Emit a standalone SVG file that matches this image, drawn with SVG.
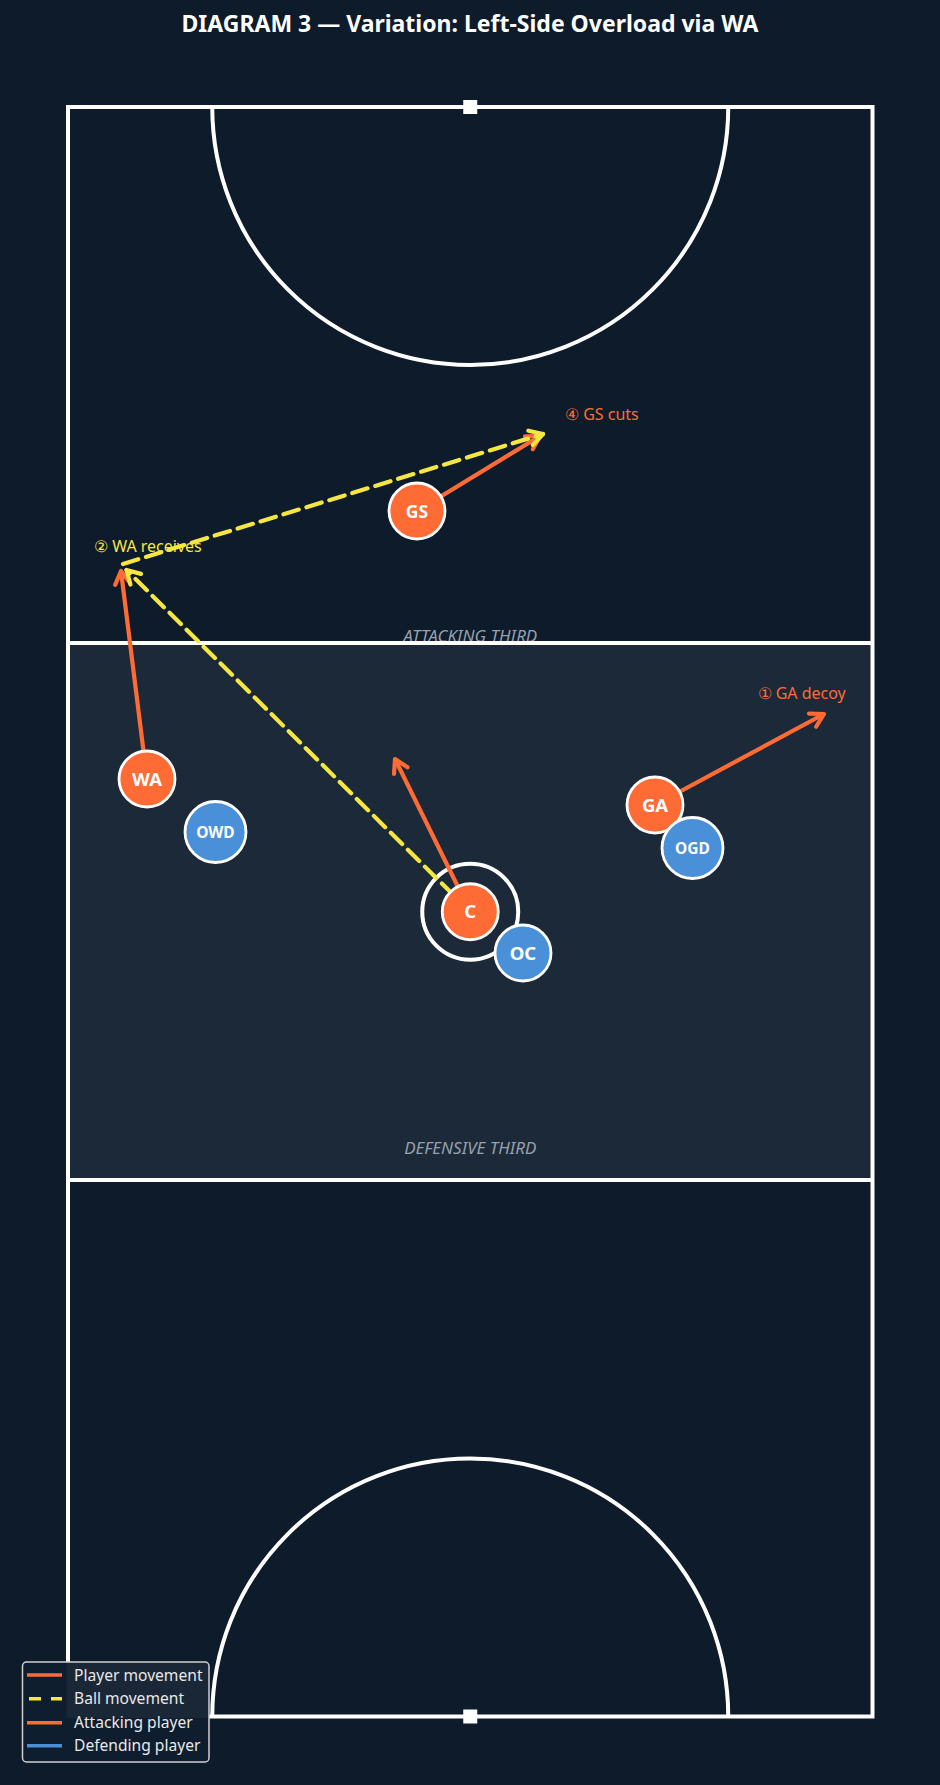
<svg xmlns="http://www.w3.org/2000/svg" width="940" height="1785" viewBox="0 0 940 1785">
<defs>
<style>
.court{fill:none;stroke:#ffffff;stroke-width:4}
.zone{font-family:"Noto Sans","Liberation Sans",sans-serif;font-size:17px;font-style:italic;fill:#96a1ad;text-anchor:middle}
.lbl{font-family:"Noto Sans","Liberation Sans",sans-serif;font-size:16px}
.mv{stroke:#ff6b35;stroke-width:4.2;fill:none;stroke-linecap:butt}
.ball{stroke:#f5e642;stroke-width:4.2;fill:none;stroke-dasharray:16 8;stroke-linecap:round}
.att{fill:#ff6b35;stroke:#ffffff;stroke-width:2.8}
.def{fill:#4a90d9;stroke:#ffffff;stroke-width:2.8}
.pt{font-family:"Noto Sans","Liberation Sans",sans-serif;font-weight:bold;fill:#ffffff;text-anchor:middle}
.leg{font-family:"Noto Sans","Liberation Sans",sans-serif;font-size:15.6px;fill:#e8e8e8}
</style>
<marker id="ho" markerUnits="userSpaceOnUse" orient="auto" refX="0" refY="0" markerWidth="30" markerHeight="30" overflow="visible">
<path d="M-13,-7.5 L0,0 L-13,7.5" fill="none" stroke="#ff6b35" stroke-width="4.2" stroke-linecap="round" stroke-linejoin="round"/>
</marker>
<marker id="hy" markerUnits="userSpaceOnUse" orient="auto" refX="0" refY="0" markerWidth="30" markerHeight="30" overflow="visible">
<path d="M-13,-7.5 L0,0 L-13,7.5" fill="none" stroke="#f5e642" stroke-width="4.2" stroke-linecap="round" stroke-linejoin="round"/>
</marker>
</defs>
<rect width="940" height="1785" fill="#0e1b2b"/>
<text x="470" y="32" font-family="'Noto Sans','Liberation Sans',sans-serif" font-size="23" font-weight="bold" fill="#ffffff" text-anchor="middle">DIAGRAM 3 — Variation: Left-Side Overload via WA</text>
<g id="court">
<rect x="68" y="643" width="804.5" height="537" fill="#1c2938"/>
<text class="zone" x="470.25" y="641.5">ATTACKING THIRD</text>
<text class="zone" x="470.25" y="1154">DEFENSIVE THIRD</text>
<rect class="court" x="68" y="107" width="804.5" height="1609.5"/>
<line class="court" x1="68" y1="643" x2="872.5" y2="643"/>
<line class="court" x1="68" y1="1180" x2="872.5" y2="1180"/>
<path class="court" d="M212.25,107 A258,258 0 0 0 728.25,107"/>
<path class="court" d="M212.25,1716.5 A258,258 0 0 1 728.25,1716.5"/>
<circle class="court" cx="470.25" cy="911.75" r="48"/>
<rect x="463.25" y="100" width="14" height="14" fill="#ffffff"/>
<rect x="463.25" y="1709.5" width="14" height="14" fill="#ffffff"/>
</g>
<g id="labels">
<text class="lbl" x="565" y="420" fill="#ff6b35">④ GS cuts</text>
<text class="lbl" x="94" y="552" fill="#f5e642">② WA receives</text>
<text class="lbl" x="757.5" y="699" fill="#ff6b35">① GA decoy</text>
</g>
<g id="connectors">
<line class="mv" x1="147" y1="779" x2="121" y2="571" marker-end="url(#ho)"/>
<line class="mv" x1="470.25" y1="911.75" x2="395" y2="759" marker-end="url(#ho)"/>
<line class="mv" x1="655" y1="805" x2="824" y2="714" marker-end="url(#ho)"/>
<line class="mv" x1="417" y1="511" x2="540" y2="436" marker-end="url(#ho)"/>
<line class="ball" x1="470.25" y1="911.75" x2="126.5" y2="570" marker-end="url(#hy)"/>
<line class="ball" x1="123" y1="564" x2="543" y2="434" marker-end="url(#hy)"/>
</g>
<g id="player-GS"><circle class="att" cx="417" cy="511" r="28"/><text class="pt" x="417" y="517.5" font-size="17.5">GS</text></g>
<g id="player-WA"><circle class="att" cx="147" cy="779" r="28"/><text class="pt" x="147" y="785.5" font-size="18.5">WA</text></g>
<g id="player-OWD"><circle class="def" cx="215.5" cy="832" r="30.5"/><text class="pt" x="215.5" y="838" font-size="15.5">OWD</text></g>
<g id="player-C"><circle class="att" cx="470.25" cy="911.75" r="28"/><text class="pt" x="470.25" y="918" font-size="18.5">C</text></g>
<g id="player-OC"><circle class="def" cx="523" cy="953" r="28"/><text class="pt" x="523" y="959.5" font-size="18.5">OC</text></g>
<g id="player-GA"><circle class="att" cx="655" cy="805" r="28"/><text class="pt" x="655" y="811.5" font-size="18.5">GA</text></g>
<g id="player-OGD"><circle class="def" cx="692.5" cy="848" r="30.5"/><text class="pt" x="692.5" y="854" font-size="15.5">OGD</text></g>
<g id="legend">
<rect x="22.5" y="1662" width="186.5" height="100" rx="4" fill="#0f1e2e"/>
<rect x="66.5" y="1663" width="141.5" height="55" fill="#1a2737"/>
<rect x="22.5" y="1662" width="186.5" height="100" rx="4" fill="none" stroke="#d0d0d0" stroke-width="1.5"/>
<line x1="27" y1="1675" x2="62" y2="1675" stroke="#ff6b35" stroke-width="3.5"/>
<line x1="29" y1="1698.7" x2="62" y2="1698.7" stroke="#f5e642" stroke-width="3.5" stroke-dasharray="12 10"/>
<line x1="27" y1="1722.7" x2="62" y2="1722.7" stroke="#ff6b35" stroke-width="3.5"/>
<line x1="27" y1="1745.7" x2="62" y2="1745.7" stroke="#4a90d9" stroke-width="3.5"/>
<text class="leg" x="74" y="1680.5">Player movement</text>
<text class="leg" x="74" y="1704">Ball movement</text>
<text class="leg" x="74" y="1728">Attacking player</text>
<text class="leg" x="74" y="1751">Defending player</text>
</g>
</svg>
